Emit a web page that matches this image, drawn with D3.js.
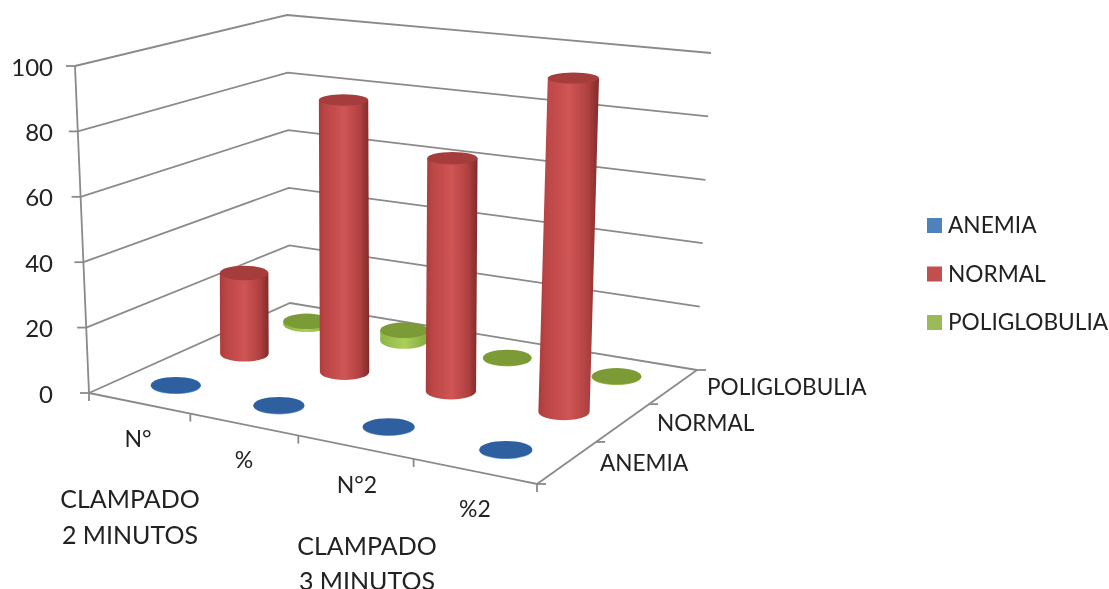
<!DOCTYPE html>
<html><head><meta charset="utf-8">
<script src="https://cdn.jsdelivr.net/npm/d3@7"></script>
<style>html,body{margin:0;padding:0;background:#fff;overflow:hidden}svg{display:block}text{font-family:Lato,"Open Sans",sans-serif;fill:#222}</style>
</head><body><svg id="c" width="1109" height="589"></svg>
<script>
const categories = ["N°", "%", "N°2", "%2"];
const seriesNames = ["ANEMIA", "NORMAL", "POLIGLOBULIA"];
const anemia = [0.2, 0.2, 0.2, 0.2];
const normal = [26, 85.5, 71.5, 100];
const poliglobulia = [1, 3.5, 0.2, 0.2];
const yTicks = [0, 20, 40, 60, 80, 100];
const seriesValues = [anemia, normal, poliglobulia];
const seriesColors = ["#4f81bd", "#c0504d", "#9bbb59"];

const svg = d3.select("#c");
const defs = svg.append("defs");
const soft = defs.append("filter").attr("id","soft").attr("x","-5%").attr("y","-5%").attr("width","110%").attr("height","110%");
soft.append("feGaussianBlur").attr("stdDeviation",0.45);

function gradient(id, stops){
  const g = defs.append("linearGradient").attr("id",id);
  stops.forEach(([o,c])=>g.append("stop").attr("offset",o).attr("stop-color",c));
}
gradient("redSide",[[0,"#a93c3c"],[0.12,"#bb4545"],[0.5,"#d05555"],[0.82,"#b04040"],[1,"#7f2a2a"]]);
gradient("greenSide",[[0,"#8fb548"],[0.5,"#a9d058"],[1,"#86a83f"]]);
gradient("blueSide",[[0,"#5d8cc6"],[0.5,"#7fa8dc"],[1,"#5d8cc6"]]);
const topFill = ["#2f5f9f","#a63c3c","#7c9a35"];
const sideFill = ["url(#blueSide)","url(#redSide)","url(#greenSide)"];

// perspective of the unit square onto a screen quad
function homography(p0,p1,p2,p3){
  const dx1=p1[0]-p2[0], dx2=p3[0]-p2[0], sx=p0[0]-p1[0]+p2[0]-p3[0];
  const dy1=p1[1]-p2[1], dy2=p3[1]-p2[1], sy=p0[1]-p1[1]+p2[1]-p3[1];
  const det=dx1*dy2-dx2*dy1;
  const g=(sx*dy2-dx2*sy)/det, h=(dx1*sy-sx*dy1)/det;
  const a=p1[0]-p0[0]+g*p1[0], b=p3[0]-p0[0]+h*p3[0];
  const d=p1[1]-p0[1]+g*p1[1], e=p3[1]-p0[1]+h*p3[1];
  return (u,v)=>{const w=g*u+h*v+1;return [(a*u+b*v+p0[0])/w,(d*u+e*v+p0[1])/w];};
}
const floorPlane = homography([89,393],[537,484],[697,370],[290,303]);
const topPlane   = homography([75,66],[545,124],[711,53],[287,15]);
const barTopPlane= homography([83,66],[549,124],[711,53],[292,15]);

const xScale = d3.scaleLinear().domain([0,categories.length]).range([0,1]);
const zScale = d3.scaleLinear().domain([0,seriesNames.length]).range([0,1]);
const yScale = d3.scaleLinear().domain([0,100]).range([0,1]);
function projectOn(plane,x,z,val){
  const f=floorPlane(xScale(x),zScale(z)), t=plane(xScale(x),zScale(z)), k=yScale(val);
  return [f[0]+(t[0]-f[0])*k, f[1]+(t[1]-f[1])*k];
}
const project=(x,z,val)=>projectOn(topPlane,x,z,val);
const nX=categories.length, nZ=seriesNames.length;

const root = svg.append("g").attr("filter","url(#soft)");
const line = d3.line();
const frame = root.append("g").attr("fill","none").attr("stroke","#8a8a8a").attr("stroke-width",1.8);

// walls
yTicks.forEach(v=>{
  frame.append("path").attr("d",line([project(0,0,v),project(0,nZ,v),project(nX,nZ,v)]));
  const p=project(0,0,v);
  frame.append("path").attr("d",line([p,[p[0]-9,p[1]]]));
});
frame.append("path").attr("d",line([project(0,0,0),project(0,0,100)]));
// floor front and side edges, with ticks
frame.append("path").attr("d",line([project(0,0,0),project(nX,0,0),project(nX,nZ,0)]));
d3.range(nX+1).forEach(i=>{
  const p=project(i,0,0);
  frame.append("path").attr("d",line([p,[p[0],p[1]+8]]));
});
d3.range(nZ+1).forEach(i=>{
  const p=project(nX,i,0);
  frame.append("path").attr("d",line([p,[p[0]+9,p[1]]]));
});

// cylinders, drawn back to front
const radius = d3.scaleLinear().domain([320,450]).range([23.5,26.5]);
const marks = root.append("g");
d3.range(nZ-1,-1,-1).forEach(s=>{
  d3.range(nX).forEach(c=>{
    const val=seriesValues[s][c];
    const b=projectOn(barTopPlane,c+.5,s+.5,0), t=projectOn(barTopPlane,c+.5,s+.5,val);
    const r=radius(b[1]);
    const kb=0.33*r, kt=kb*(1-0.35*yScale(val));
    const g=marks.append("g");
    const side=`M${t[0]-r},${t[1]}L${b[0]-r},${b[1]}A${r},${kb} 0 0 0 ${b[0]+r},${b[1]}L${t[0]+r},${t[1]}Z`;
    g.append("path").attr("d",side).attr("fill",sideFill[s]);
    g.append("ellipse").attr("cx",t[0]).attr("cy",t[1]).attr("rx",r).attr("ry",kt).attr("fill",topFill[s]);
  });
});

// value axis labels
const labels = root.append("g");
yTicks.forEach(v=>{
  const p=project(0,0,v);
  labels.append("text").attr("x",53).attr("y",p[1]+9.5).attr("text-anchor","end").attr("font-size",24).text(v);
});
// category labels
const catLabelX=[138,244,357,475], catLabelY=[447,468,493,517];
categories.forEach((c,i)=>{
  labels.append("text").attr("x",catLabelX[i]).attr("y",catLabelY[i]).attr("text-anchor","middle").attr("font-size",23).text(c);
});
// depth labels
const depthLeft=[600,657,707], depthBase=[471,431,395];
seriesNames.forEach((n,i)=>{
  labels.append("text").attr("x",depthLeft[i]).attr("y",depthBase[i]).attr("font-size",22.6).text(n);
});
// annotations
[["CLAMPADO",130,508],["2 MINUTOS",130,544],["CLAMPADO",367,555],["3 MINUTOS",367,590]].forEach(([t,x,y])=>{
  labels.append("text").attr("x",x).attr("y",y).attr("text-anchor","middle").attr("font-size",25).text(t);
});
// legend
const legY=d3.scalePoint().domain(seriesNames).range([225,322]);
seriesNames.forEach((n,i)=>{
  labels.append("rect").attr("x",927).attr("y",legY(n)-7).attr("width",15).attr("height",15).attr("fill",seriesColors[i]);
  labels.append("text").attr("x",948).attr("y",legY(n)+8).attr("font-size",22.7).text(n);
});
</script></body></html>
